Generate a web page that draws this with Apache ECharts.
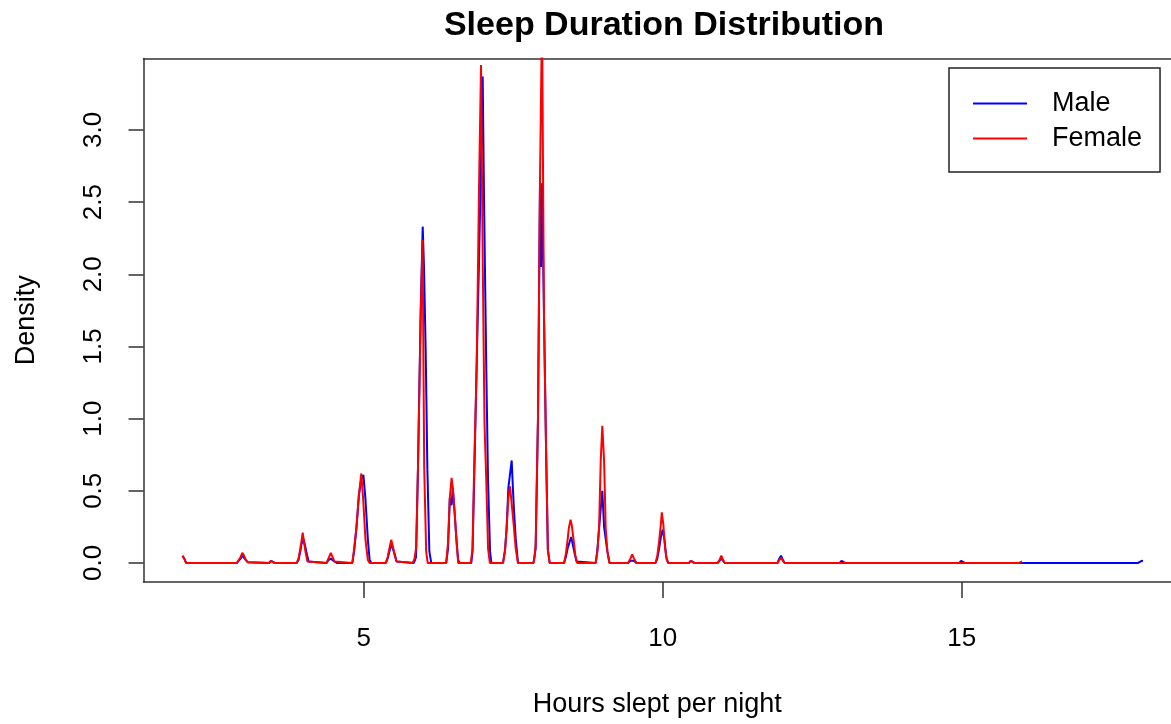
<!DOCTYPE html>
<html>
<head>
<meta charset="utf-8">
<script src="https://cdn.jsdelivr.net/npm/echarts@6/dist/echarts.min.js"></script>
<style>
  html, body { margin: 0; padding: 0; background: #ffffff; }
  #chart { width: 1171px; height: 724px; }
</style>
</head>
<body>
<div id="chart"></div>
<script>
// ---- data ----
const chartTitle = 'Sleep Duration Distribution';
const xAxisTitle = 'Hours slept per night';
const yAxisTitle = 'Density';
const seriesNames = ['Male', 'Female'];
const xTickValues = [5, 10, 15];
const yTickValues = [0, 0.5, 1.0, 1.5, 2.0, 2.5, 3.0];

// Male density curve [hours, density]
const maleDensity = [
  [1.97, 0.05], [2.00, 0.03], [2.03, 0],
  [2.88, 0], [2.91, 0.01], [2.94, 0.03], [2.97, 0.05], [3.00, 0.04], [3.03, 0.02], [3.06, 0.005], [3.09, 0],
  [3.42, 0], [3.45, 0.015], [3.48, 0.015], [3.51, 0],
  [3.88, 0], [3.91, 0.02], [3.94, 0.08], [3.96, 0.13], [3.99, 0.17], [4.02, 0.12], [4.05, 0.06], [4.08, 0.01], [4.11, 0],
  [4.38, 0], [4.41, 0.02], [4.45, 0.03], [4.48, 0.03], [4.51, 0.01], [4.55, 0],
  [4.81, 0], [4.84, 0.08], [4.88, 0.25], [4.92, 0.47], [4.96, 0.58], [4.995, 0.61], [5.03, 0.44], [5.07, 0.16], [5.10, 0.02], [5.13, 0],
  [5.37, 0], [5.40, 0.03], [5.43, 0.08], [5.46, 0.13], [5.49, 0.12], [5.52, 0.06], [5.55, 0.01], [5.58, 0],
  [5.84, 0], [5.875, 0.04], [5.908, 0.66], [5.953, 1.75], [5.987, 2.33], [6.009, 2.04], [6.037, 1.46], [6.065, 0.65], [6.098, 0.08], [6.13, 0],
  [6.38, 0], [6.41, 0.10], [6.44, 0.45], [6.47, 0.40], [6.49, 0.52], [6.52, 0.35], [6.55, 0.17], [6.58, 0.02], [6.61, 0],
  [6.80, 0], [6.82, 0.08], [6.85, 0.62], [6.89, 1.38], [6.93, 2.12], [6.99, 3.37], [7.012, 2.53], [7.051, 1.32], [7.079, 0.58], [7.113, 0.08], [7.135, 0],
  [7.33, 0], [7.363, 0.09], [7.39, 0.24], [7.419, 0.52], [7.447, 0.52], [7.475, 0.71], [7.495, 0.52], [7.514, 0.36], [7.542, 0.17], [7.58, 0],
  [7.84, 0], [7.876, 0.10], [7.915, 1.01], [7.948, 2.63], [7.965, 2.05], [7.982, 2.63], [8.015, 1.72], [8.05, 0.78], [8.08, 0.09], [8.11, 0],
  [8.35, 0], [8.38, 0.04], [8.41, 0.10], [8.44, 0.14], [8.47, 0.18], [8.50, 0.12], [8.53, 0.06], [8.56, 0.01], [8.59, 0],
  [8.88, 0], [8.908, 0.09], [8.936, 0.24], [8.964, 0.25], [8.99, 0.50], [9.02, 0.25], [9.047, 0.24], [9.075, 0.08], [9.11, 0],
  [9.42, 0], [9.46, 0.015], [9.49, 0.02], [9.52, 0.015], [9.56, 0],
  [9.88, 0], [9.91, 0.03], [9.94, 0.10], [9.97, 0.18], [10.0, 0.23], [10.03, 0.16], [10.06, 0.04], [10.09, 0],
  [10.44, 0], [10.47, 0.015], [10.50, 0.015], [10.53, 0],
  [10.92, 0], [10.95, 0.015], [10.98, 0.03], [11.01, 0.015], [11.04, 0],
  [11.92, 0], [11.95, 0.03], [11.98, 0.05], [12.01, 0.02], [12.04, 0],
  [12.96, 0], [12.99, 0.015], [13.02, 0.015], [13.05, 0],
  [13.96, 0], [13.98, 0.008], [14.0, 0],
  [14.96, 0], [14.99, 0.015], [15.02, 0.015], [15.05, 0],
  [17.95, 0], [17.98, 0.01], [18.01, 0.015], [18.03, 0.012]
];

// Female density curve [hours, density]
const femaleDensity = [
  [1.97, 0.05], [2.00, 0.03], [2.03, 0],
  [2.88, 0], [2.91, 0.02], [2.94, 0.04], [2.97, 0.07], [3.00, 0.05], [3.03, 0.02], [3.06, 0.005], [3.09, 0],
  [3.42, 0], [3.45, 0.015], [3.48, 0.015], [3.51, 0],
  [3.88, 0], [3.91, 0.03], [3.94, 0.10], [3.96, 0.15], [3.98, 0.21], [4.00, 0.15], [4.03, 0.07], [4.06, 0.01], [4.09, 0],
  [4.38, 0], [4.41, 0.03], [4.45, 0.07], [4.48, 0.04], [4.51, 0.01], [4.54, 0],
  [4.81, 0], [4.84, 0.10], [4.88, 0.25], [4.92, 0.47], [4.96, 0.62], [4.99, 0.45], [5.03, 0.16], [5.07, 0.02], [5.10, 0],
  [5.37, 0], [5.40, 0.04], [5.43, 0.10], [5.46, 0.16], [5.49, 0.11], [5.52, 0.05], [5.55, 0.01], [5.58, 0],
  [5.82, 0], [5.85, 0.03], [5.878, 0.11], [5.908, 0.66], [5.953, 1.69], [5.985, 2.24], [6.012, 0.66], [6.045, 0.08], [6.07, 0],
  [6.38, 0], [6.41, 0.14], [6.44, 0.45], [6.47, 0.59], [6.49, 0.52], [6.52, 0.36], [6.55, 0.16], [6.58, 0],
  [6.79, 0], [6.82, 0.10], [6.845, 0.62], [6.89, 1.38], [6.929, 2.61], [6.962, 3.45], [6.99, 2.12], [7.02, 0.97], [7.05, 0.57], [7.08, 0.10], [7.11, 0],
  [7.33, 0], [7.363, 0.08], [7.39, 0.24], [7.419, 0.45], [7.447, 0.53], [7.475, 0.53], [7.514, 0.24], [7.542, 0.10], [7.58, 0],
  [7.84, 0], [7.86, 0.05], [7.876, 0.14], [7.915, 1.01], [7.948, 2.64], [7.982, 3.80], [8.015, 1.71], [8.05, 0.78], [8.08, 0.09], [8.11, 0],
  [8.35, 0], [8.38, 0.06], [8.41, 0.16], [8.43, 0.24], [8.46, 0.30], [8.48, 0.26], [8.51, 0.16], [8.54, 0.05], [8.57, 0],
  [8.88, 0], [8.908, 0.08], [8.936, 0.24], [8.964, 0.71], [8.99, 0.95], [9.02, 0.71], [9.047, 0.24], [9.075, 0.08], [9.11, 0],
  [9.42, 0], [9.46, 0.03], [9.49, 0.06], [9.52, 0.03], [9.56, 0],
  [9.88, 0], [9.91, 0.05], [9.94, 0.15], [9.97, 0.27], [9.985, 0.35], [10.01, 0.27], [10.04, 0.10], [10.07, 0.02], [10.10, 0],
  [10.44, 0], [10.47, 0.015], [10.50, 0.015], [10.53, 0],
  [10.92, 0], [10.95, 0.02], [10.98, 0.05], [11.01, 0.02], [11.04, 0],
  [11.92, 0], [11.95, 0.02], [11.98, 0.035], [12.01, 0.015], [12.04, 0],
  [13.96, 0], [13.98, 0.01], [14.0, 0],
  [15.96, 0], [15.99, 0.012], [16.01, 0.01]
];

// ---- chart ----
const FONT = "'Liberation Sans', Arial, sans-serif";
const FRAME = { color: '#333333', width: 1.5 };
const chart = echarts.init(document.getElementById('chart'), null, { renderer: 'canvas' });

chart.setOption({
  animation: false,
  backgroundColor: '#ffffff',
  title: {
    text: chartTitle,
    left: 659,
    top: 4,
    textAlign: 'center',
    textStyle: { fontFamily: FONT, fontSize: 34, fontWeight: 'bold', color: '#000000' }
  },
  legend: {
    data: seriesNames,
    orient: 'vertical',
    left: 949,
    top: 68,
    padding: [22, 18, 20, 24],
    icon: 'rect',
    itemGap: 8,
    itemWidth: 54,
    itemHeight: 2,
    borderColor: '#222222',
    borderWidth: 1.5,
    borderRadius: 0,
    backgroundColor: '#ffffff',
    textStyle: { fontFamily: FONT, fontSize: 27, color: '#000000', padding: [0, 0, 0, 20] }
  },
  grid: {
    show: false,
    left: 143.5,
    top: 58.5,
    bottom: 142,
    right: 0,
    containLabel: false
  },
  xAxis: [
    {
      type: 'value',
      position: 'bottom',
      min: 1.318,
      max: 18.5,
      name: xAxisTitle,
      nameLocation: 'middle',
      nameGap: 109,
      nameTextStyle: { fontFamily: FONT, fontSize: 27, color: '#000000' },
      axisLine: { show: true, onZero: false, lineStyle: FRAME },
      splitLine: { show: false },
      axisTick: { show: true, customValues: xTickValues, length: 16, lineStyle: FRAME },
      axisLabel: { show: true, customValues: xTickValues, margin: 44, fontFamily: FONT, fontSize: 26, color: '#000000' }
    },
    {
      type: 'value',
      position: 'top',
      min: 1.318,
      max: 18.5,
      axisLine: { show: true, onZero: false, lineStyle: FRAME },
      axisTick: { show: false },
      axisLabel: { show: false },
      splitLine: { show: false }
    }
  ],
  yAxis: {
    type: 'value',
    min: -0.132,
    max: 3.495,
    name: yAxisTitle,
    nameLocation: 'middle',
    nameGap: 103,
    nameRotate: 90,
    nameTextStyle: { fontFamily: FONT, fontSize: 27, color: '#000000' },
    axisLine: { show: true, onZero: false, lineStyle: FRAME },
    splitLine: { show: false },
    axisTick: { show: true, customValues: yTickValues, length: 15, lineStyle: FRAME },
    axisLabel: {
      show: true, customValues: yTickValues, rotate: 90, margin: 37,
      fontFamily: FONT, fontSize: 26, color: '#000000',
      formatter: v => v.toFixed(1)
    }
  },
  series: [
    {
      name: seriesNames[0], type: 'line', data: maleDensity, xAxisIndex: 0,
      showSymbol: false, symbol: 'none', clip: true,
      lineStyle: { color: '#0000ff', width: 2 }, itemStyle: { color: '#0000ff' }
    },
    {
      name: seriesNames[1], type: 'line', data: femaleDensity, xAxisIndex: 0,
      showSymbol: false, symbol: 'none', clip: true,
      lineStyle: { color: '#ff0000', width: 2 }, itemStyle: { color: '#ff0000' }
    }
  ]
});
</script>
</body>
</html>
